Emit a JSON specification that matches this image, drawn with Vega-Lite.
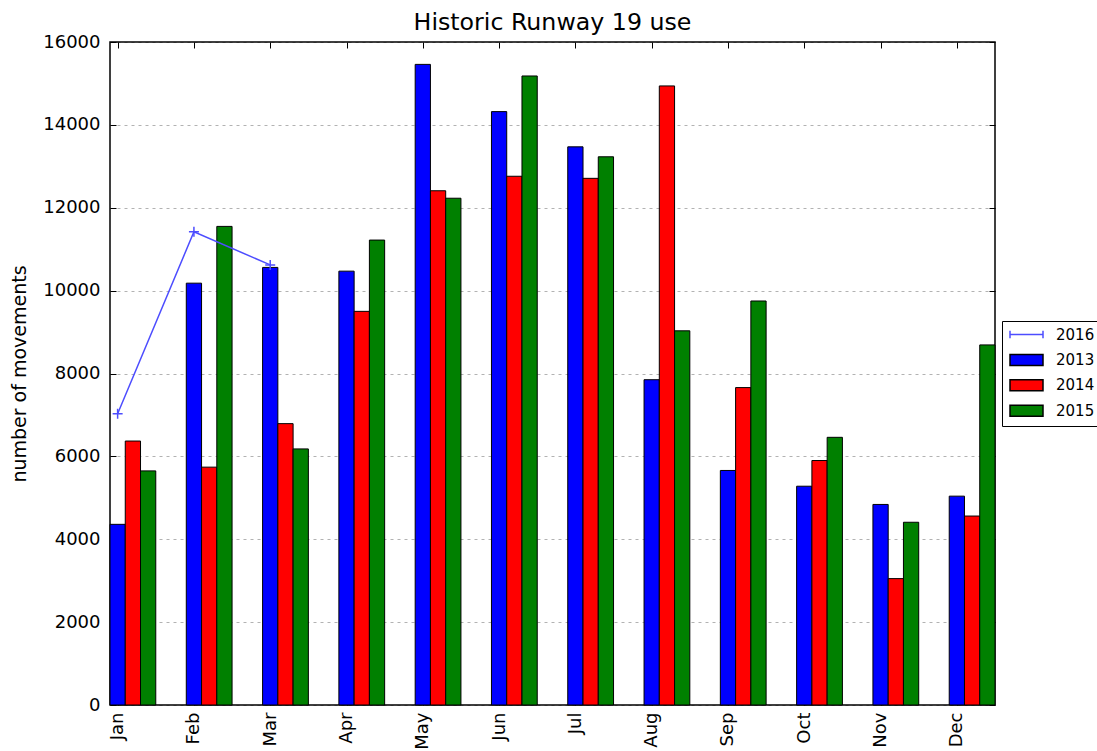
{
  "$schema": "https://vega.github.io/schema/vega-lite/v6.json",
  "width": 885,
  "height": 663,
  "autosize": {"type": "none"},
  "padding": {"left": 110, "top": 42, "right": 102, "bottom": 46},
  "background": "white",
  "title": {"text": "Historic Runway 19 use", "font": "DejaVu Sans", "fontSize": 23.7, "fontWeight": "normal", "color": "black", "anchor": "middle", "baseline": "bottom", "offset": 0, "dy": 26},
  "config": {
    "font": "DejaVu Sans",
    "view": {"stroke": "black", "strokeWidth": 1.5},
    "axis": {"zindex": 1}
  },
  "data": {
    "values": [
      {"month": "Jan", "year": "2013", "value": 4360},
      {"month": "Jan", "year": "2014", "value": 6370},
      {"month": "Jan", "year": "2015", "value": 5650},
      {"month": "Jan", "year": "2016", "value": 7030},
      {"month": "Feb", "year": "2013", "value": 10180},
      {"month": "Feb", "year": "2014", "value": 5740},
      {"month": "Feb", "year": "2015", "value": 11550},
      {"month": "Feb", "year": "2016", "value": 11420},
      {"month": "Mar", "year": "2013", "value": 10560},
      {"month": "Mar", "year": "2014", "value": 6790},
      {"month": "Mar", "year": "2015", "value": 6180},
      {"month": "Mar", "year": "2016", "value": 10620},
      {"month": "Apr", "year": "2013", "value": 10470},
      {"month": "Apr", "year": "2014", "value": 9500},
      {"month": "Apr", "year": "2015", "value": 11220},
      {"month": "May", "year": "2013", "value": 15460},
      {"month": "May", "year": "2014", "value": 12410},
      {"month": "May", "year": "2015", "value": 12230},
      {"month": "Jun", "year": "2013", "value": 14320},
      {"month": "Jun", "year": "2014", "value": 12760},
      {"month": "Jun", "year": "2015", "value": 15180},
      {"month": "Jul", "year": "2013", "value": 13470},
      {"month": "Jul", "year": "2014", "value": 12710},
      {"month": "Jul", "year": "2015", "value": 13230},
      {"month": "Aug", "year": "2013", "value": 7850},
      {"month": "Aug", "year": "2014", "value": 14940},
      {"month": "Aug", "year": "2015", "value": 9030},
      {"month": "Sep", "year": "2013", "value": 5660},
      {"month": "Sep", "year": "2014", "value": 7660},
      {"month": "Sep", "year": "2015", "value": 9750},
      {"month": "Oct", "year": "2013", "value": 5280},
      {"month": "Oct", "year": "2014", "value": 5900},
      {"month": "Oct", "year": "2015", "value": 6460},
      {"month": "Nov", "year": "2013", "value": 4840},
      {"month": "Nov", "year": "2014", "value": 3050},
      {"month": "Nov", "year": "2015", "value": 4410},
      {"month": "Dec", "year": "2013", "value": 5040},
      {"month": "Dec", "year": "2014", "value": 4560},
      {"month": "Dec", "year": "2015", "value": 8690}
    ]
  },
  "layer": [
    {
      "transform": [{"filter": "datum.year != '2016'"}],
      "mark": {"type": "bar", "stroke": "black", "strokeWidth": 1},
      "encoding": {
        "x": {
          "field": "month", "type": "nominal",
          "sort": ["Jan", "Feb", "Mar", "Apr", "May", "Jun", "Jul", "Aug", "Sep", "Oct", "Nov", "Dec"],
          "scale": {"paddingInner": 0.4, "paddingOuter": 0},
          "axis": {"orient": "bottom", "title": null, "labelAngle": 270, "labelFontSize": 18, "labelColor": "black", "labelPadding": 13, "tickSize": -6, "tickColor": "black", "domain": false, "grid": false, "tickOffset": -15.26}
        },
        "xOffset": {"field": "year", "type": "nominal", "sort": ["2013", "2014", "2015"], "scale": {"paddingInner": 0, "paddingOuter": 0}},
        "y": {
          "field": "value", "type": "quantitative",
          "scale": {"domain": [0, 16000], "nice": false},
          "axis": {"values": [0, 2000, 4000, 6000, 8000, 10000, 12000, 14000, 16000], "format": "d", "labelFontSize": 18, "labelColor": "black", "labelPadding": 16, "tickSize": -6, "tickColor": "black", "domain": false, "grid": true, "gridColor": "black", "gridOpacity": 0.3, "gridDash": [3, 4], "title": "number of movements", "titleFontSize": 19, "titleFontWeight": "normal", "titleColor": "black", "titlePadding": 13}
        },
        "color": {
          "field": "year",
          "type": "nominal",
          "scale": {"domain": ["2016", "2013", "2014", "2015"], "range": ["#4d4dff", "#0000ff", "#ff0000", "#008000"]},
          "legend": {
            "orient": "none",
            "legendX": 892,
            "legendY": 279,
            "title": null,
            "strokeColor": "black",
            "fillColor": "white",
            "padding": 6,
            "labelFont": "DejaVu Sans",
            "labelFontSize": 15,
            "labelColor": "black",
            "labelOffset": 33,
            "symbolSize": 121,
            "rowPadding": 8.4,
            "symbolType": {"expr": "datum.value == '2016' ? 'M-1,0H5M-1,-0.7V0.7M5,-0.7V0.7' : 'M-1,-1H5V1H-1Z'"},
            "symbolStrokeColor": {"expr": "datum.value == '2016' ? '#4d4dff' : 'black'"},
            "symbolStrokeWidth": 1.5,
            "encoding": {
              "symbols": {
                "shape": {"value": {"expr": "datum.value == '2016' ? 'M-1,0H5M-1,-0.7V0.7M5,-0.7V0.7' : 'M-1,-1H5V1H-1Z'"}},
                "stroke": {"value": {"expr": "datum.value == '2016' ? '#4d4dff' : 'black'"}},
                "strokeWidth": {"value": 1.5},
                "opacity": {"value": 1}
              }
            }
          }
        }
      }
    },
    {
      "transform": [{"filter": "datum.year == '2016'"}],
      "mark": {"type": "line", "strokeWidth": 1.5, "color": "#4d4dff"},
      "encoding": {
        "x": {
          "field": "month", "type": "nominal", "bandPosition": 0.16667,
          "sort": ["Jan", "Feb", "Mar", "Apr", "May", "Jun", "Jul", "Aug", "Sep", "Oct", "Nov", "Dec"],
          "axis": {"orient": "top", "labels": false, "title": null, "tickSize": -6, "tickColor": "black", "domain": false, "grid": false, "tickOffset": -15.26}
        },
        "y": {
          "field": "value", "type": "quantitative",
          "axis": {"orient": "right", "labels": false, "title": null, "tickSize": -6, "tickColor": "black", "domain": false, "grid": false, "values": [0, 2000, 4000, 6000, 8000, 10000, 12000, 14000, 16000]}
        }
      }
    },
    {
      "transform": [{"filter": "datum.year == '2016'"}],
      "mark": {"type": "point", "shape": "M-1,0H1M0,-1V1", "size": 100, "filled": false, "strokeWidth": 1.5, "opacity": 1, "color": "#4d4dff"},
      "encoding": {
        "x": {
          "field": "month", "type": "nominal", "bandPosition": 0.16667,
          "sort": ["Jan", "Feb", "Mar", "Apr", "May", "Jun", "Jul", "Aug", "Sep", "Oct", "Nov", "Dec"],
          "axis": null
        },
        "y": {"field": "value", "type": "quantitative", "axis": null}
      }
    }
  ],
  "resolve": {"axis": {"x": "independent", "y": "independent"}}
}
